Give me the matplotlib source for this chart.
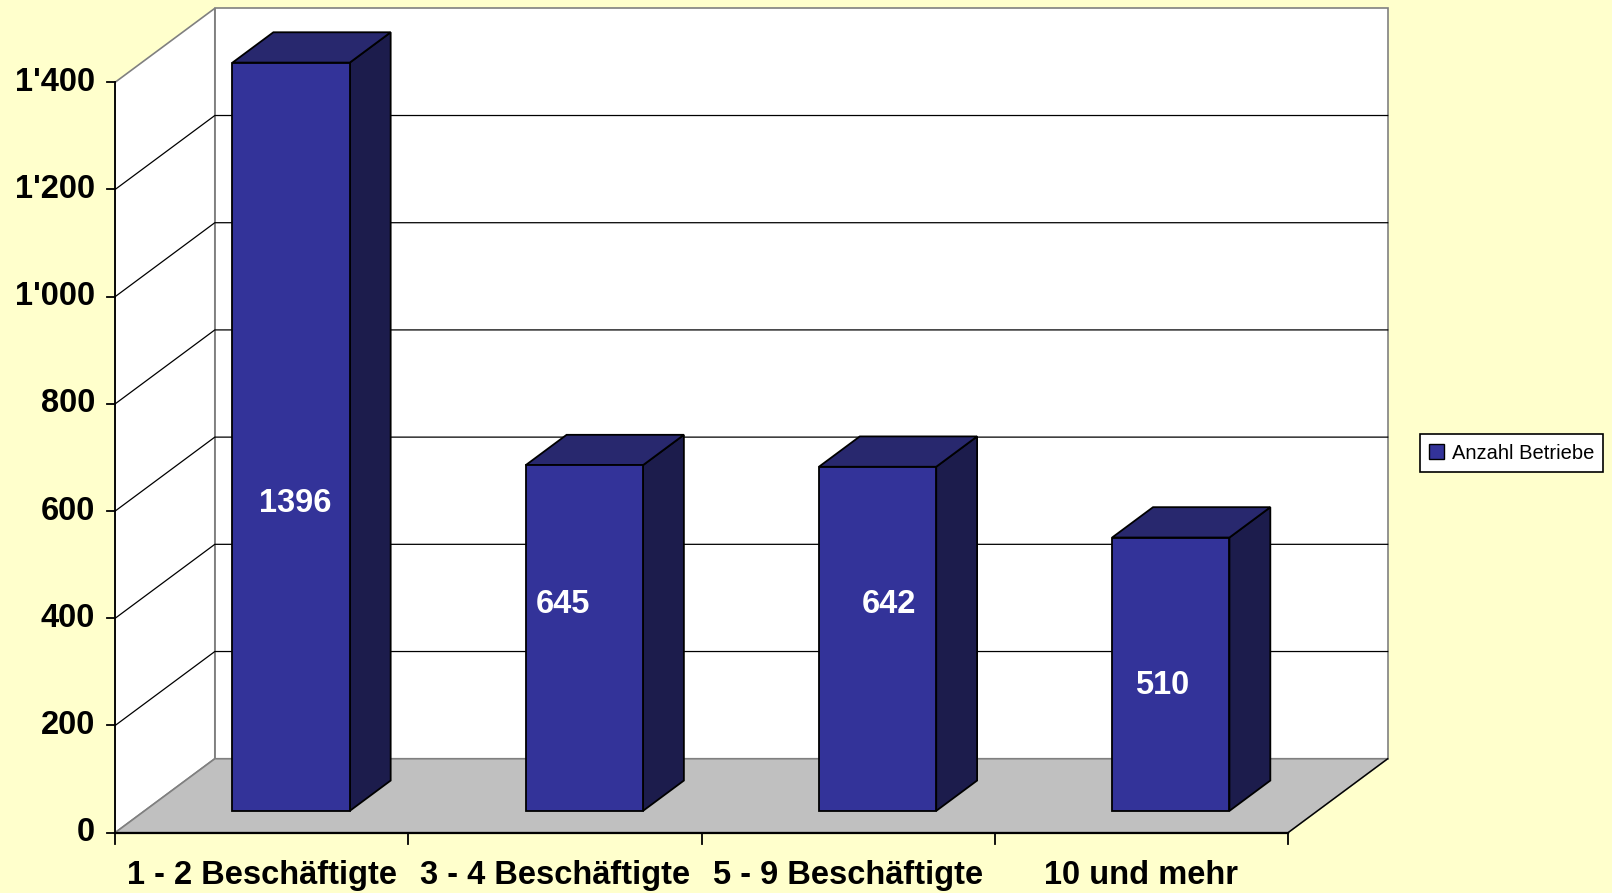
import matplotlib
matplotlib.use('Agg')
import matplotlib.pyplot as plt
from matplotlib.patches import Polygon, Patch

plt.rcParams['font.family'] = ['Liberation Sans', 'DejaVu Sans']

# data
categories = ['1 - 2 Beschäftigte', '3 - 4 Beschäftigte', '5 - 9 Beschäftigte', '10 und mehr']
values = [1396, 645, 642, 510]
series_name = 'Anzahl Betriebe'
yticks = [0, 200, 400, 600, 800, 1000, 1200, 1400]
ytick_labels = ['0', '200', '400', '600', '800', "1'000", "1'200", "1'400"]
# where Excel dropped the value labels (offset in category, height on front plane)
label_dx = [0.613, 0.528, 0.640, 0.572]
label_y = [614, 425, 425, 275]

FRONT = '#333399'
SIDE = '#1c1c4c'
TOP = '#28286e'
BG = '#ffffcc'
FLOOR = '#c0c0c0'
GREY = '#808080'

# oblique depth offset (category units, value units)
DX, DY = 0.34, 138
YMAX = yticks[-1]
N = len(categories)


def proj(x, v, z):
    return (x + z * DX, v + z * DY)


fig = plt.figure(figsize=(16.12, 8.93), dpi=100, facecolor=BG)
ax = fig.add_axes([0, 0, 1, 1])
ax.set_xlim(-0.3926, 5.105)
ax.set_ylim(-112.5, 1553.5)
ax.axis('off')

# walls
back = [proj(0, 0, 1), proj(N, 0, 1), proj(N, YMAX, 1), proj(0, YMAX, 1)]
ax.add_patch(Polygon(back, closed=True, facecolor='white', edgecolor=GREY, lw=1.2, zorder=1))
left = [proj(0, 0, 0), proj(0, 0, 1), proj(0, YMAX, 1), proj(0, YMAX, 0)]
ax.add_patch(Polygon(left, closed=True, facecolor='white', edgecolor=GREY, lw=1.2, zorder=1))

# gridlines
for t in yticks[1:-1]:
    xs, ys = zip(proj(0, t, 0), proj(0, t, 1), proj(N, t, 1))
    ax.plot(xs, ys, color='black', lw=0.9, zorder=2)

# floor
floor = [proj(0, 0, 0), proj(N, 0, 0), proj(N, 0, 1), proj(0, 0, 1)]
ax.add_patch(Polygon(floor, closed=True, facecolor=FLOOR, edgecolor=GREY, lw=1.2, zorder=3))
xs, ys = zip(proj(N, 0, 0), proj(N, 0, 1))
ax.plot(xs, ys, color='black', lw=1.0, zorder=3)

# axes lines + ticks
ax.plot([0, 0], [0, YMAX], color='black', lw=1.3, zorder=4)
ax.plot([0, N], [0, 0], color='black', lw=1.6, zorder=4)
for t, lab in zip(yticks, ytick_labels):
    ax.plot([-0.028, 0], [t, t], color='black', lw=1.3, zorder=4)
    ax.text(-0.068, t, lab, ha='right', va='center', fontsize=23.5, fontweight='bold', zorder=5)
for i in range(N + 1):
    ax.plot([i, i], [0, -22], color='black', lw=1.3, zorder=4)
for i, c in enumerate(categories):
    ax.text(i + 0.5, -80, c, ha='center', va='center', fontsize=23.5, fontweight='bold', zorder=5)

# bars
for i, v in enumerate(values):
    x0, x1 = i + 0.3, i + 0.7
    z0, z1 = 0.295, 0.705
    front = [proj(x0, 0, z0), proj(x1, 0, z0), proj(x1, v, z0), proj(x0, v, z0)]
    side = [proj(x1, 0, z0), proj(x1, 0, z1), proj(x1, v, z1), proj(x1, v, z0)]
    top = [proj(x0, v, z0), proj(x1, v, z0), proj(x1, v, z1), proj(x0, v, z1)]
    for pts, col in ((side, SIDE), (top, TOP), (front, FRONT)):
        ax.add_patch(Polygon(pts, closed=True, facecolor=col, edgecolor='black', lw=1.3, zorder=6))
    ax.text(i + label_dx[i], label_y[i], str(v), ha='center', va='center', color='white',
            fontsize=23.5, fontweight='bold', zorder=7)

# legend
handle = Patch(facecolor=FRONT, edgecolor='black', lw=1.0, label=series_name)
leg = fig.legend(handles=[handle], loc='center', bbox_to_anchor=(0.9377, 0.4927),
                 fontsize=14.5, frameon=True, fancybox=False, framealpha=1,
                 handlelength=0.75, handleheight=0.75, handletextpad=0.4,
                 borderpad=0.45, borderaxespad=0)
leg.get_frame().set_edgecolor('black')
leg.get_frame().set_linewidth(1.2)

fig.savefig('out.png', dpi=100, facecolor=BG)
